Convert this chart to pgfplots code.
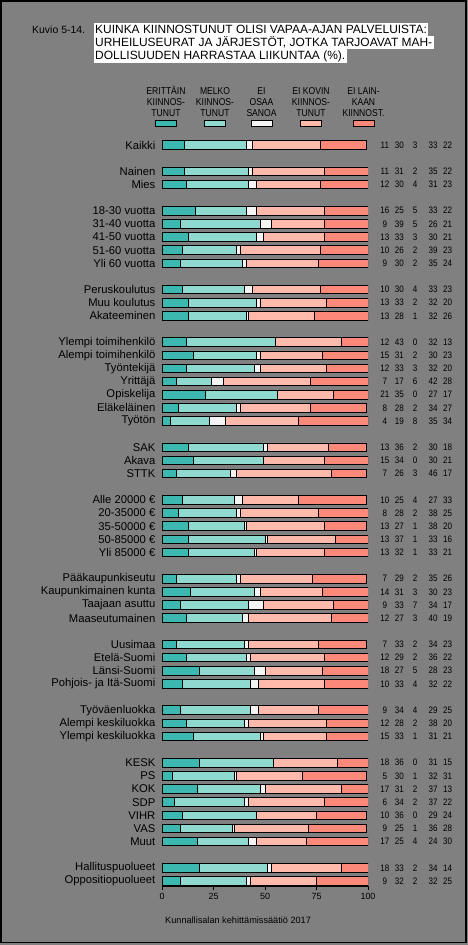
\documentclass[border=0pt]{standalone}
\usepackage{fontspec}
\setmainfont{Liberation Sans}
\newfontfamily\narrowfont[FakeStretch=0.86]{Liberation Sans}
\usepackage{pgfplots}
\usepackage{pgfplotstable}
\pgfplotsset{compat=1.18}
\definecolor{bg}{RGB}{128,128,128}
\definecolor{c1}{RGB}{61,184,176}
\definecolor{c2}{RGB}{143,217,208}
\definecolor{c3}{RGB}{244,244,244}
\definecolor{c4}{RGB}{255,186,172}
\definecolor{c5}{RGB}{250,137,122}
\pgfplotstableread[col sep=comma]{
pos,label,a,b,c,d,e
0,Kaikki,11,30,3,33,22
2,Nainen,11,31,2,35,22
3,Mies,12,30,4,31,23
5,18-30 vuotta,16,25,5,33,22
6,31-40 vuotta,9,39,5,26,21
7,41-50 vuotta,13,33,3,30,21
8,51-60 vuotta,10,26,2,39,23
9,Yli 60 vuotta,9,30,2,35,24
11,Peruskoulutus,10,30,4,33,23
12,Muu koulutus,13,33,2,32,20
13,Akateeminen,13,28,1,32,26
15,Ylempi toimihenkilö,12,43,0,32,13
16,Alempi toimihenkilö,15,31,2,30,23
17,Työntekijä,12,33,3,32,20
18,Yrittäjä,7,17,6,42,28
19,Opiskelija,21,35,0,27,17
20,Eläkeläinen,8,28,2,34,27
21,Työtön,4,19,8,35,34
23,SAK,13,36,2,30,18
24,Akava,15,34,0,30,21
25,STTK,7,26,3,46,17
27,Alle 20000 €,10,25,4,27,33
28,20-35000 €,8,28,2,38,25
29,35-50000 €,13,27,1,38,20
30,50-85000 €,13,37,1,33,16
31,Yli 85000 €,13,32,1,33,21
33,Pääkaupunkiseutu,7,29,2,35,26
34,Kaupunkimainen kunta,14,31,3,30,23
35,Taajaan asuttu,9,33,7,34,17
36,Maaseutumainen,12,27,3,40,19
38,Uusimaa,7,33,2,34,23
39,Etelä-Suomi,12,29,2,36,22
40,Länsi-Suomi,18,27,5,28,23
41,Pohjois- ja Itä-Suomi,10,33,4,32,22
43,Työväenluokka,9,34,4,29,25
44,Alempi keskiluokka,12,28,2,38,20
45,Ylempi keskiluokka,15,33,1,31,21
47,KESK,18,36,0,31,15
48,PS,5,30,1,32,31
49,KOK,17,31,2,37,13
50,SDP,6,34,2,37,22
51,VIHR,10,36,0,29,24
52,VAS,9,25,1,36,28
53,Muut,17,25,4,24,30
55,Hallituspuolueet,18,33,2,34,14
56,Oppositiopuolueet,9,32,2,32,25
}\data

\pgfplotsset{
  geom/.style={
    at={(162bp,59bp)}, anchor=south west, scale only axis,
    width=206bp, height=746bp,
    xmin=0, xmax=100, ymin=-56.38, ymax=0.38,
  },
  numcol/.style={draw=none, mark=none, nodes near coords,
    point meta=explicit symbolic,
    nodes near coords align={anchor=center},
    every node near coord/.append style={font=\narrowfont\fontsize{9.4}{10}\selectfont, inner sep=0pt, black}},
}

\begin{document}
\begin{tikzpicture}
\begin{scope}[x=1bp,y=1bp]
\fill[bg] (0,0) rectangle (468,945);
% heading
\node[anchor=base west, inner sep=0pt, font=\fontsize{10.5}{12}\selectfont] at (32,911.7) {Kuvio 5-14.};
\foreach \t/\yy in {{KUINKA KIINNOSTUNUT OLISI VAPAA-AJAN PALVELUISTA:}/911.7,
                    {URHEILUSEURAT JA JÄRJESTÖT, JOTKA TARJOAVAT MAH-}/898.4,
                    {DOLLISUUDEN HARRASTAA LIIKUNTAA (\%).}/885.1}{
  \node[anchor=base west, fill=white, inner xsep=1.5bp, inner ysep=0pt,
        text height=10.4bp, text depth=2.9bp, font=\fontsize{12}{13}\selectfont] at (93.5,\yy) {\t};
}
% legend
\foreach \cx/\la/\lb/\lc/\col in {166/ERITTÄIN/KIINNOS-/TUNUT/c1,
                                   215/MELKO/KIINNOS-/TUNUT/c2,
                                   261.5/EI/OSAA/SANOA/c3,
                                   311/EI KOVIN/KIINNOS-/TUNUT/c4,
                                   363.5/EI LAIN-/KAAN/KIINNOST./c5}{
  \node[anchor=base, inner sep=0pt, font=\narrowfont\fontsize{10}{11}\selectfont] at (\cx,850) {\la};
  \node[anchor=base, inner sep=0pt, font=\narrowfont\fontsize{10}{11}\selectfont] at (\cx,839.2) {\lb};
  \node[anchor=base, inner sep=0pt, font=\narrowfont\fontsize{10}{11}\selectfont] at (\cx,828.4) {\lc};
  \filldraw[fill=\col, draw=black, line width=0.8bp] (\cx-10.5,819) rectangle (\cx+10.5,825);
}
% source
\node[anchor=base west, inner sep=0pt, font=\fontsize{9.2}{11}\selectfont] at (165,21) {Kunnallisalan kehittämissäätiö 2017};
\end{scope}

\begin{axis}[geom,
  xbar stacked, bar width=8.6bp,
  axis x line*=bottom, axis y line*=left,
  y axis line style={draw=none},
  x axis line style={black, line width=0.8bp},
  xtick={0,25,50,75,100},
  xtick align=outside, ytick align=inside,
  major tick length=4bp,
  xtick style={black, line width=0.7bp},
  ytick style={draw=none},
  ytick=data,
  yticklabels from table={\data}{label},
  yticklabel style={font=\fontsize{11.3}{13}\selectfont, inner sep=0pt, anchor=east, xshift=-6.5bp},
  xticklabel style={font=\fontsize{9}{10}\selectfont, inner sep=0pt, yshift=-3.5bp},
  /pgf/number format/assume math mode=true,
  every axis plot/.append style={draw=black, line width=0.8bp},
]
\addplot[fill=c1] table[x=a, y expr=-\thisrow{pos}] {\data};
\addplot[fill=c2] table[x=b, y expr=-\thisrow{pos}] {\data};
\addplot[fill=c3] table[x=c, y expr=-\thisrow{pos}] {\data};
\addplot[fill=c4] table[x=d, y expr=-\thisrow{pos}] {\data};
\addplot[fill=c5] table[x=e, y expr=-\thisrow{pos}] {\data};
\end{axis}

\begin{axis}[geom, hide axis, clip=false]
\addplot[numcol] table[x expr=108.2, y expr=-\thisrow{pos}, meta=a] {\data};
\addplot[numcol] table[x expr=115.2, y expr=-\thisrow{pos}, meta=b] {\data};
\addplot[numcol] table[x expr=122.9, y expr=-\thisrow{pos}, meta=c] {\data};
\addplot[numcol] table[x expr=131.6, y expr=-\thisrow{pos}, meta=d] {\data};
\addplot[numcol] table[x expr=138.6, y expr=-\thisrow{pos}, meta=e] {\data};
\end{axis}

\begin{scope}[x=1bp,y=1bp]
\draw[black, line width=1.2bp] (1,2.5) rectangle (466,944);
\end{scope}
\end{tikzpicture}
\end{document}
